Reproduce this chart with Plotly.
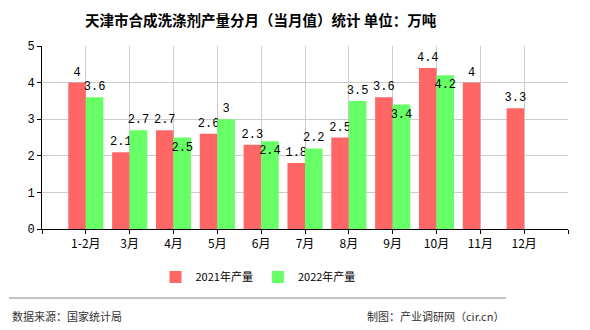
import plotly.graph_objects as go

months = ["1-2月", "3月", "4月", "5月", "6月", "7月", "8月", "9月", "10月", "11月", "12月"]
prod_2021 = [4, 2.1, 2.7, 2.6, 2.3, 1.8, 2.5, 3.6, 4.4, 4, 3.3]
prod_2022 = [3.6, 2.7, 2.5, 3, 2.4, 2.2, 3.5, 3.4, 4.2, None, None]
series_names = ["2021年产量", "2022年产量"]
title_text = "天津市合成洗涤剂产量分月（当月值）统计 单位：万吨"
source_text = "数据来源：国家统计局"
credit_text = "制图：产业调研网（cir.cn）"

xpos = list(range(1, len(months) + 1))
pos_2021 = ["outside"] * len(months)
pos_2022 = ["outside", "outside", "inside", "outside", "inside", "outside",
            "outside", "inside", "inside", "outside", "outside"]

def fmt(v):
    if v is None:
        return ""
    return ("%g" % v)

label_font = dict(family="Liberation Mono, DejaVu Sans Mono, monospace", size=12, color="#000000")

fig = go.Figure()
fig.add_trace(go.Bar(
    x=xpos, y=prod_2021, name=series_names[0], marker_color="#FF6666",
    marker_line_width=0,
    text=[fmt(v) for v in prod_2021], textposition=pos_2021,
    textfont=label_font, outsidetextfont=label_font, insidetextfont=label_font,
    insidetextanchor="end", constraintext="none", cliponaxis=False, textangle=0,
))
fig.add_trace(go.Bar(
    x=xpos, y=prod_2022, name=series_names[1], marker_color="#66FF66",
    marker_line_width=0,
    text=[fmt(v) for v in prod_2022], textposition=pos_2022,
    textfont=label_font, outsidetextfont=label_font, insidetextfont=label_font,
    insidetextanchor="end", constraintext="none", cliponaxis=False, textangle=0,
))

tick_font = dict(family="Noto Sans CJK SC, sans-serif", size=12, color="#000000")

plot_w = 590 - 42 - 22
plot_h = 330 - 46 - 101
def px_to_paper_x(px):
    return (px - 42) / plot_w
def px_to_paper_y(py):
    return (330 - 101 - py) / plot_h

fig.update_layout(
    width=590, height=330,
    margin=dict(l=42, r=22, t=46, b=101),
    paper_bgcolor="#FFFFFF", plot_bgcolor="#FFFFFF",
    barmode="group", bargap=0.2, bargroupgap=0,
    showlegend=True,
    legend=dict(orientation="h", x=px_to_paper_x(258), xanchor="center",
                y=px_to_paper_y(277), yanchor="middle",
                font=dict(family="Noto Sans CJK SC, sans-serif", size=11, color="#000000"),
                itemwidth=30, traceorder="normal"),
    xaxis=dict(
        range=[0, 12], tickvals=list(range(0, 13)),
        ticktext=[""] + months + [""],
        showgrid=True, gridcolor="#CCCCCC", gridwidth=1,
        showline=True, linecolor="#000000", linewidth=1,
        ticks="outside", ticklen=4, tickcolor="#000000",
        tickfont=tick_font, zeroline=False,
    ),
    yaxis=dict(
        range=[0, 5], tickvals=[0, 1, 2, 3, 4, 5],
        showgrid=True, gridcolor="#CCCCCC", gridwidth=1,
        showline=True, linecolor="#000000", linewidth=1,
        ticks="outside", ticklen=4, tickcolor="#000000",
        tickfont=dict(family="Liberation Mono, DejaVu Sans Mono, monospace", size=12, color="#000000"),
        zeroline=False,
    ),
    annotations=[
        dict(text="<b>" + title_text + "</b>", x=px_to_paper_x(261), y=px_to_paper_y(19),
             xref="paper", yref="paper", xanchor="center", yanchor="middle",
             showarrow=False, font=dict(family="Noto Sans CJK SC, sans-serif", size=14.5, color="#000000")),
        dict(text=source_text, x=px_to_paper_x(10), y=px_to_paper_y(316),
             xref="paper", yref="paper", xanchor="left", yanchor="middle", showarrow=False,
             font=dict(family="Noto Sans CJK SC, sans-serif", size=11, color="#333333")),
        dict(text=credit_text, x=px_to_paper_x(506), y=px_to_paper_y(316),
             xref="paper", yref="paper", xanchor="right", yanchor="middle", showarrow=False,
             font=dict(family="Noto Sans CJK SC, sans-serif", size=11, color="#333333")),
    ],
)

fig.add_shape(type="line", xref="paper", yref="paper",
              x0=px_to_paper_x(9), x1=px_to_paper_x(506),
              y0=px_to_paper_y(298), y1=px_to_paper_y(298),
              line=dict(color="#888888", width=1))

fig.write_html("out.html")
